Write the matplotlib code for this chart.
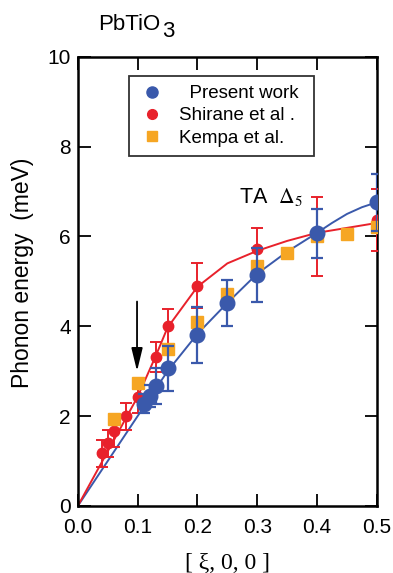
import matplotlib
matplotlib.use("Agg")
import matplotlib.pyplot as plt
from matplotlib.lines import Line2D

plt.rcParams["font.family"] = ["Liberation Sans", "DejaVu Sans"]
plt.rcParams["mathtext.fontset"] = "stix"

# datos: presente trabajo (azul), Shirane et al. (rojo), Kempa et al. (naranja)
xi_azul = [0.11, 0.12, 0.13, 0.15, 0.20, 0.25, 0.30, 0.40, 0.50]
e_azul = [2.28, 2.45, 2.68, 3.07, 3.80, 4.52, 5.15, 6.07, 6.76]
err_azul = [0.22, 0.25, 0.40, 0.50, 0.62, 0.52, 0.60, 0.55, 0.63]

xi_rojo = [0.04, 0.05, 0.06, 0.08, 0.10, 0.13, 0.15, 0.20, 0.30, 0.40, 0.50]
e_rojo = [1.17, 1.40, 1.67, 2.00, 2.42, 3.31, 4.00, 4.90, 5.72, 6.00, 6.37]
err_rojo = [0.30, 0.30, 0.35, 0.30, 0.35, 0.33, 0.39, 0.50, 0.47, 0.88, 0.69]

xi_naranja = [0.06, 0.10, 0.15, 0.20, 0.25, 0.30, 0.35, 0.40, 0.45, 0.50]
e_naranja = [1.93, 2.73, 3.50, 4.10, 4.71, 5.35, 5.64, 6.00, 6.05, 6.20]

# curvas de ajuste
xi_curva_azul = [0, 0.05, 0.10, 0.15, 0.20, 0.25, 0.30, 0.35, 0.40, 0.425, 0.45, 0.475, 0.50]
e_curva_azul = [0, 1.00, 2.00, 3.00, 3.83, 4.52, 5.17, 5.66, 6.08, 6.30, 6.50, 6.65, 6.76]
xi_curva_rojo = [0, 0.10, 0.13, 0.15, 0.20, 0.25, 0.30, 0.35, 0.40, 0.50]
e_curva_rojo = [0, 2.43, 3.33, 3.97, 4.88, 5.40, 5.68, 5.90, 6.08, 6.30]

azul = "#3A59AB"
rojo = "#E8212B"
naranja = "#F6A623"

fig = plt.figure(figsize=(3.93, 5.73), dpi=100)
ax = fig.add_axes([0.198, 0.117, 0.761, 0.784])

ax.plot(xi_curva_azul, e_curva_azul, color=azul, lw=1.4, zorder=2)
ax.plot(xi_curva_rojo, e_curva_rojo, color=rojo, lw=1.4, zorder=2)

ax.errorbar(xi_rojo, e_rojo, yerr=err_rojo, fmt="o", color=rojo, ms=7.5,
            capsize=4, elinewidth=1.4, capthick=1.4, zorder=3)
ax.plot(xi_naranja, e_naranja, "s", color=naranja, ms=8, zorder=4)
ax.errorbar(xi_azul, e_azul, yerr=err_azul, fmt="o", color=azul, ms=10.5,
            capsize=4, elinewidth=1.6, capthick=1.6, zorder=5)

# flecha en xi = 0.1
ax.annotate("", xy=(0.099, 3.0), xytext=(0.099, 4.55),
            arrowprops=dict(arrowstyle="-|>,head_width=0.17,head_length=0.7",
                            color="black", lw=1.3, mutation_scale=20,
                            shrinkA=0, shrinkB=0))

ax.text(0.27, 6.88, r"TA  $\Delta_5$", fontsize=15.5, va="center")

ax.set_xlim(0, 0.5)
ax.set_ylim(0, 10)
ax.set_xticks([0, 0.1, 0.2, 0.3, 0.4, 0.5])
ax.set_xticklabels(["0.0", "0.1", "0.2", "0.3", "0.4", "0.5"])
ax.set_yticks([0, 2, 4, 6, 8, 10])
ax.tick_params(direction="in", length=9, width=1.3, labelsize=15,
               top=True, right=True, pad=5)
ax.tick_params(axis="x", pad=9)
for s in ax.spines.values():
    s.set_linewidth(1.8)

ax.set_ylabel("Phonon energy  (meV)", fontsize=16.5)
ax.yaxis.set_label_coords(-0.145, 0.52)
ax.set_xlabel("[ ξ, 0, 0 ]", fontsize=17, family=["Liberation Serif", "DejaVu Serif"],
              labelpad=11)

# leyenda solo con marcadores
handles = [
    Line2D([], [], ls="none", marker="o", color=azul, ms=8),
    Line2D([], [], ls="none", marker="o", color=rojo, ms=7),
    Line2D([], [], ls="none", marker="s", color=naranja, ms=7),
]
labels = ["  Present work ", "Shirane et al .", "Kempa et al."]
leg = ax.legend(handles, labels, loc="upper left",
                bbox_to_anchor=(0.17, 0.958), fontsize=13.5, frameon=True, fancybox=False,
                edgecolor="black", handletextpad=0.7, borderpad=0.5, labelspacing=0.28,
                handlelength=1.5, borderaxespad=0)
leg.get_frame().set_linewidth(1.3)

fig.text(0.25, 0.957, "PbTiO", fontsize=16, va="center")
fig.text(0.413, 0.945, "3", fontsize=16, va="center")

fig.savefig("out.png", dpi=100)
